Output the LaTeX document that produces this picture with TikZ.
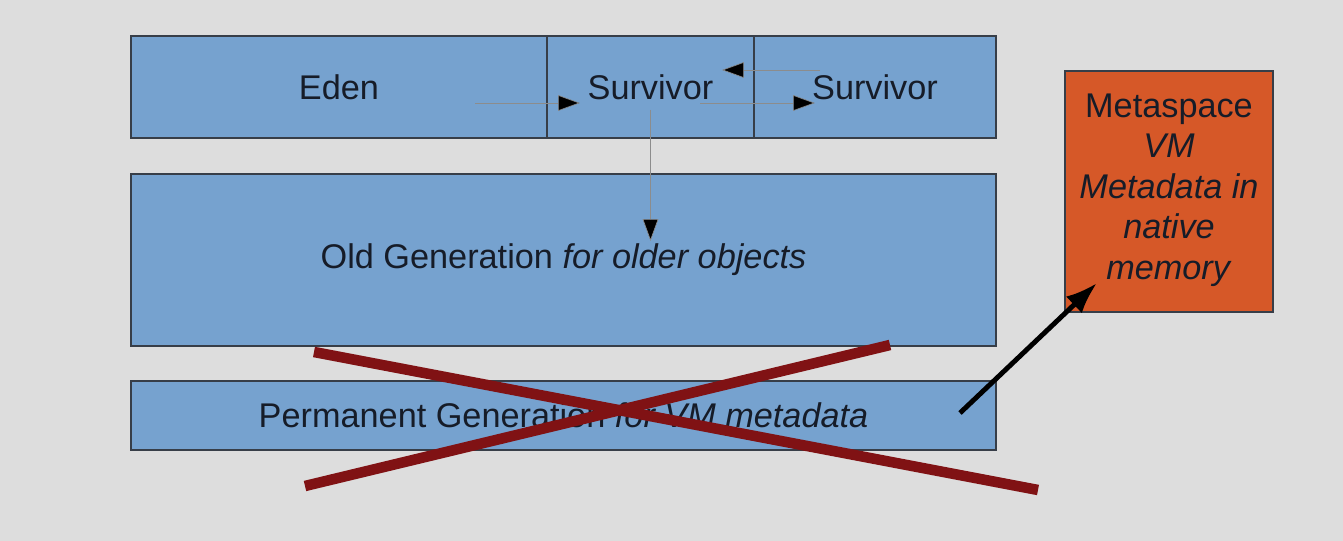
\documentclass[tikz,border=0pt]{standalone}
\usepackage{fontspec}
\setmainfont{Liberation Sans}
\usepackage{tikz}
\usetikzlibrary{arrows.meta,positioning,calc}
\definecolor{slidebg}{RGB}{221,221,221}
\definecolor{heapblue}{RGB}{118,162,207}
\definecolor{metaorange}{RGB}{214,88,40}
\definecolor{edgegrey}{RGB}{55,62,72}
\definecolor{crossred}{RGB}{128,18,20}
\definecolor{inkdark}{RGB}{22,28,40}
\tikzset{
  heap/region/.style={draw=edgegrey, line width=1.1pt, fill=heapblue, outer sep=0pt, inner sep=0pt,
    align=center, text=inkdark, font=\fontsize{19.5}{23}\selectfont},
  heap/meta/.style={heap/region, fill=metaorange, minimum width=4.16cm, minimum height=4.82cm},
  heap/flow/.style={draw=black!45, line width=0.35pt, -{Triangle[length=12.5pt,width=9pt,fill=black]}},
  heap/cross/.style={draw=crossred, line width=6pt},
  heap/move/.style={draw=black, line width=2.8pt, -{Latex[length=18pt,width=13pt]}}
}

\begin{document}
\begin{tikzpicture}[node distance=0pt]
  \useasboundingbox[fill=slidebg] (0,0) rectangle (26.86,10.82);

  \node[heap/region, anchor=north west, minimum width=8.32cm, minimum height=2.04cm] (eden) at (2.62,10.10) {Eden};
  \node[heap/region, right=of eden, minimum width=4.14cm, minimum height=2.04cm] (survA) {Survivor};
  \node[heap/region, right=of survA, minimum width=4.84cm, minimum height=2.04cm] (survB) {Survivor};
  \node[heap/region, below=0.72cm of eden.south west, anchor=north west, minimum width=17.30cm, minimum height=3.44cm] (oldgen)
    {Old Generation \textit{for older objects}};
  \node[heap/region, below=0.70cm of oldgen.south west, anchor=north west, minimum width=17.30cm, minimum height=1.38cm] (permgen)
    {Permanent Generation \textit{for VM metadata}};
  \node[heap/meta, anchor=north west, text depth=0.2cm] (metaspace) at (21.30,9.40)
    {Metaspace\\ \textit{VM}\\ \textit{Metadata in}\\ \textit{native}\\ \textit{memory}};

  \draw[heap/flow] ($(eden.east)+(-1.44,-0.32)$) -- ($(survA.west)+(0.66,-0.32)$);
  \draw[heap/flow] ($(survB.west)+(1.32,0.34)$) -- ($(survB.west)+(-0.64,0.34)$);
  \draw[heap/flow] ($(survA.east)+(-1.08,-0.32)$) -- ($(survB.west)+(1.22,-0.32)$);
  \draw[heap/flow] ($(survA.center)+(0,-0.46)$) -- ($(survA.center |- oldgen.north)+(0,-1.34)$);

  \draw[heap/cross] (6.28,3.78) -- (20.76,1.02);
  \draw[heap/cross] (6.10,1.10) -- (17.80,3.92);

  \draw[heap/move] ($(permgen.east)+(-0.72,0.05)$) -- ($(metaspace.south west)+(0.64,0.58)$);
\end{tikzpicture}
\end{document}
